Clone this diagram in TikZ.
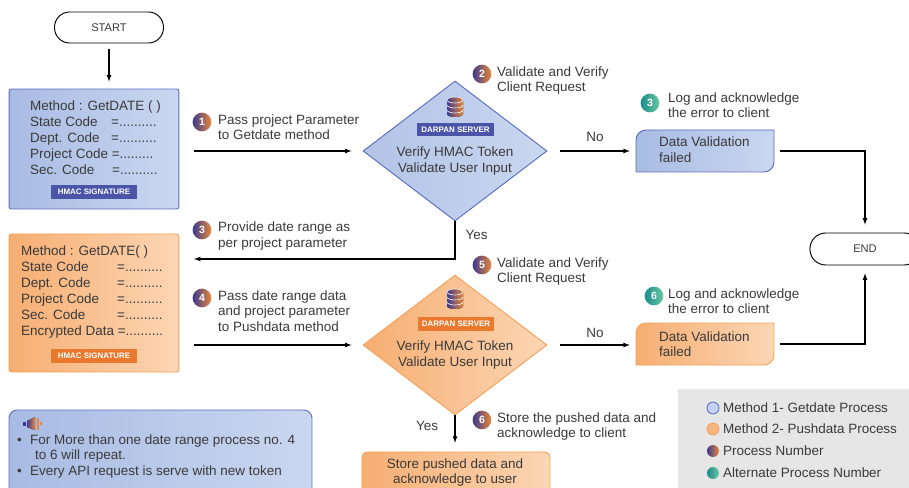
\documentclass[tikz,border=0pt]{standalone}
\usepackage{fontspec}
\setmainfont{Liberation Sans}
\usepackage{tikz}
\usetikzlibrary{shapes.geometric, positioning, arrows}

\definecolor{ink}{HTML}{3A3A3A}
\definecolor{blueL}{HTML}{A8BBE3}
\definecolor{blueR}{HTML}{CAD7F0}
\definecolor{blueB}{HTML}{5A6DBE}
\definecolor{blueLt}{HTML}{C5D3F0}
\definecolor{orngL}{HTML}{F6AE72}
\definecolor{orngR}{HTML}{FCD6B4}
\definecolor{orngB}{HTML}{F4A25A}
\definecolor{badgeB}{HTML}{4B55A8}
\definecolor{badgeO}{HTML}{E8792E}
\definecolor{numA}{HTML}{3B3A8E}
\definecolor{numB}{HTML}{E9873A}
\definecolor{altA}{HTML}{1B8B8B}
\definecolor{altB}{HTML}{6CC7A2}
\definecolor{legendbg}{HTML}{E6E6E6}

\tikzset{
    lbl/.style={anchor=base west, inner sep=0pt},
    clbl/.style={anchor=base, inner sep=0pt},
    term/.style={draw, line width=0.8pt, rounded corners=13pt, minimum width=93pt, minimum height=26.5pt, font=\fontsize{9.5}{11}\selectfont},
    bluebox/.style={draw=blueB, line width=0.8pt, left color=blueL, right color=blueR, rounded corners=2pt, inner sep=0pt},
    orngbox/.style={draw=orngB, line width=0.8pt, left color=orngL, right color=orngR, rounded corners=2pt, inner sep=0pt},
    badge/.style={fill=#1, text=white, font=\bfseries\fontsize{6.8}{8}\selectfont, minimum width=73pt, minimum height=12pt, inner sep=0pt},
    numball/.style={circle, inner sep=0pt, minimum size=16pt, left color=numA, right color=numB, text=white, font=\bfseries\fontsize{9}{9}\selectfont},
    altball/.style={numball, left color=altA, right color=altB},
    flow/.style={->, line width=0.9pt},
}

\begin{document}
\begin{tikzpicture}[x=0.03cm, y=-0.03cm, font=\fontsize{11.5}{13.7}\selectfont, text=ink, >=latex]
    \useasboundingbox (0,0) rectangle (909,488);

    % method 1
    \node[term] (start) at (109,27.5) {START};
    \node[bluebox, minimum width=145pt, minimum height=102.4pt] (box1) at (94,149) {};
    \draw[flow] ([yshift=-4.3pt]start.south) -- ([yshift=6pt]box1.north -| start.south);
    \node[lbl] (m1) at (30,111) {Method : GetDATE ( )};
    \foreach \lab [count=\i] in {State Code, Dept. Code} {
        \node[lbl] (m1k\i) at (30,111+16*\i) {\lab};
        \node[lbl] (m1v\i) at (111,111+16*\i) {=..........};
    }
    \node[lbl] (m1k3) at (30,159) {Project Code =.........};
    \node[lbl] (m1k4) at (30,175) {Sec. Code};
    \node[lbl] (m1v4) at (112,175) {=..........};
    \node[badge=badgeB] (sig1) at (94,192) {HMAC SIGNATURE};

    \node[diamond, draw=blueB, line width=0.8pt, left color=blueL!70!blueR, right color=blueR, minimum width=157pt, minimum height=119.5pt, inner sep=0pt] (dia1) at (455,151) {};
    \node[badge=badgeB, minimum width=65.7pt, minimum height=11.1pt] (srv1) at (455.5,129.5) {DARPAN SERVER};
    \node[clbl] (v1a) at (455,156.5) {Verify HMAC Token};
    \node[clbl] (v1b) at (455,172.5) {Validate User Input};

    \node[numball] (n1) at (202,122) {1};
    \node[lbl] (t1a) at (218,125) {Pass project Parameter};
    \node[lbl] (t1b) at (218,140) {to Getdate method};
    \draw[flow] ([xshift=12.8pt]box1.east |- dia1.west) -- ([xshift=-9.4pt]dia1.west);

    \node[numball] (n2) at (482,74) {2};
    \node[lbl] (t2a) at (497,77) {Validate and Verify};
    \node[lbl] (t2b) at (497,92) {Client Request};

    \node[inner sep=0pt, minimum width=117.8pt, minimum height=35.9pt] (fail1) at (705,151) {};
    \draw[draw=blueB, line width=0.8pt, left color=blueL, right color=blueR] (636,172) -- (636,140) arc[start angle=180, end angle=270, radius=10] -- (774,130) -- (774,162) arc[start angle=0, end angle=90, radius=10] -- cycle;
    \node[lbl] (f1a) at (659,147) {Data Validation};
    \node[lbl] (f1b) at (659,163) {failed};
    \draw[flow] ([xshift=11.1pt]dia1.east) -- ([xshift=-5.1pt]fail1.west |- dia1.east);
    \node[clbl] (no1) at (595,142) {No};

    \node[altball] (n3a) at (650,103) {3};
    \node[lbl] (t3a) at (668,103) {Log and acknowledge};
    \node[lbl] (t3b) at (668,118) {the error to client};

    \node[term, minimum width=94pt, minimum height=27.3pt, rounded corners=13.5pt] (end) at (865,249) {END};
    \draw[flow] ([xshift=5.1pt]fail1.east) -| ([yshift=6.8pt]end.north);

    % back to client
    \coordinate (ret) at (194,259);
    \draw[flow] (dia1.south) |- (ret);
    \node[clbl] (yes1) at (476.5,240) {Yes};
    \node[numball] (n3) at (202,230) {3};
    \node[lbl] (t4a) at (218,232) {Provide date range as};
    \node[lbl] (t4b) at (218,248) {per project parameter};

    % method 2
    \node[orngbox, minimum width=145pt, minimum height=117.8pt] (box2) at (94,303) {};
    \node[lbl] (m2) at (21,255) {Method : GetDATE( )};
    \foreach \lab [count=\i] in {State Code, Dept. Code, Project Code, Sec. Code} {
        \node[lbl] (m2k\i) at (21,255+16*\i) {\lab};
        \node[lbl] (m2v\i) at (117,255+16*\i) {=..........};
    }
    \node[lbl] (m2k5) at (21,335) {Encrypted Data =..........};
    \node[badge=badgeO] (sig2) at (94,356) {HMAC SIGNATURE};

    \node[diamond, draw=orngB, line width=0.8pt, left color=orngL, right color=orngR, minimum width=157pt, minimum height=119.5pt, inner sep=0pt] (dia2) at (455,345) {};
    \node[badge=badgeO, minimum width=65.7pt, minimum height=11.1pt] (srv2) at (456,324) {DARPAN SERVER};
    \node[clbl] (v2a) at (455,350.5) {Verify HMAC Token};
    \node[clbl] (v2b) at (455,366.5) {Validate User Input};

    \node[numball] (n4) at (202,298) {4};
    \node[lbl] (t5a) at (218,300) {Pass date range data};
    \node[lbl] (t5b) at (218,315.5) {and project parameter};
    \node[lbl] (t5c) at (218,331) {to Pushdata method};
    \draw[flow] ([xshift=12.8pt]box2.east |- dia2.west) -- ([xshift=-9.4pt]dia2.west);

    \node[numball] (n5) at (482,265) {5};
    \node[lbl] (t6a) at (497,267) {Validate and Verify};
    \node[lbl] (t6b) at (497,282) {Client Request};

    \node[inner sep=0pt, minimum width=117.8pt, minimum height=35.9pt] (fail2) at (705,344) {};
    \draw[draw=orngB, line width=0.8pt, left color=orngL, right color=orngR] (636,365) -- (636,333) arc[start angle=180, end angle=270, radius=10] -- (774,323) -- (774,355) arc[start angle=0, end angle=90, radius=10] -- cycle;
    \node[lbl] (f2a) at (659,341) {Data Validation};
    \node[lbl] (f2b) at (659,356) {failed};
    \draw[flow] ([xshift=11.1pt]dia2.east) -- ([xshift=-5.1pt]fail2.west |- dia2.east);
    \node[clbl] (no2) at (595,337) {No};

    \node[altball] (n6a) at (654,296) {6};
    \node[lbl] (t7a) at (668,298) {Log and acknowledge};
    \node[lbl] (t7b) at (668,313) {the error to client};
    \draw[flow] ([xshift=5.1pt]fail2.east) -| ([yshift=-6.8pt]end.south);

    \node[orngbox, rounded corners=5pt, minimum width=160.5pt, minimum height=41pt] (store) at (456,476) {};
    \node[clbl] (s1) at (455,468) {Store pushed data and};
    \node[clbl] (s2) at (455,483) {acknowledge to user};
    \draw[flow] (dia2.south) -- ([yshift=7.5pt]store.north -| dia2.south);
    \node[clbl] (yes2) at (427,430) {Yes};
    \node[numball] (n6) at (482,420) {6};
    \node[lbl] (t8a) at (497,422) {Store the pushed data and};
    \node[lbl] (t8b) at (497,437) {acknowledge to client};

    % database icons
    \foreach \cx/\cy in {455/107, 455/299} {
        \fill[left color=numA, right color=numB] (\cx-8,\cy-7) -- (\cx-8,\cy+7) arc[start angle=180, end angle=0, x radius=8, y radius=3] -- (\cx+8,\cy-7) arc[start angle=0, end angle=-180, x radius=8, y radius=3] -- cycle;
        \draw[white, line width=0.5pt] (\cx,\cy-7) ellipse[x radius=8, y radius=3];
        \draw[white, line width=0.5pt] (\cx-8,\cy-2) arc[start angle=180, end angle=0, x radius=8, y radius=3];
        \draw[white, line width=0.5pt] (\cx-8,\cy+3) arc[start angle=180, end angle=0, x radius=8, y radius=3];
    }

    % note
    \node[bluebox, rounded corners=7pt, minimum width=258.6pt, minimum height=76.8pt] (note) at (160.5,455) {};
    \fill[numA] (23,422) rectangle (26,426);
    \fill[left color=numA, right color=numB] (27,421) -- (35,417) -- (35,430) -- (27,427) -- cycle;
    \fill[numB] (37,418) rectangle (39,430);
    \fill[numB] (40,422) rectangle (42,425);
    \node[lbl] (b1) at (17,444) {•};
    \node[lbl] (r1a) at (30,444) {For More than one date range process no. 4};
    \node[lbl] (r1b) at (35,459) {to 6 will repeat.};
    \node[lbl] (b2) at (17,475) {•};
    \node[lbl] (r2) at (30,475) {Every API request is serve with new token};

    % legend
    \fill[legendbg] (678,389) rectangle (915,495);
    \node[circle, inner sep=0pt, minimum size=10.2pt, draw=blueB, fill=blueLt, line width=0.7pt] (k1) at (713,408) {};
    \node[lbl] (k1t) at (723,412.5) {Method 1- Getdate Process};
    \node[circle, inner sep=0pt, minimum size=10.2pt, draw=orngB, fill=orngL!80!orngR, line width=0.7pt] (k2) at (713,429) {};
    \node[lbl] (k2t) at (723,433.5) {Method 2- Pushdata Process};
    \node[numball, minimum size=10.2pt] (k3) at (713,451) {};
    \node[lbl] (k3t) at (723,455.5) {Process Number};
    \node[altball, minimum size=10.2pt] (k4) at (713,473) {};
    \node[lbl] (k4t) at (723,477.5) {Alternate Process Number};
\end{tikzpicture}
\end{document}
